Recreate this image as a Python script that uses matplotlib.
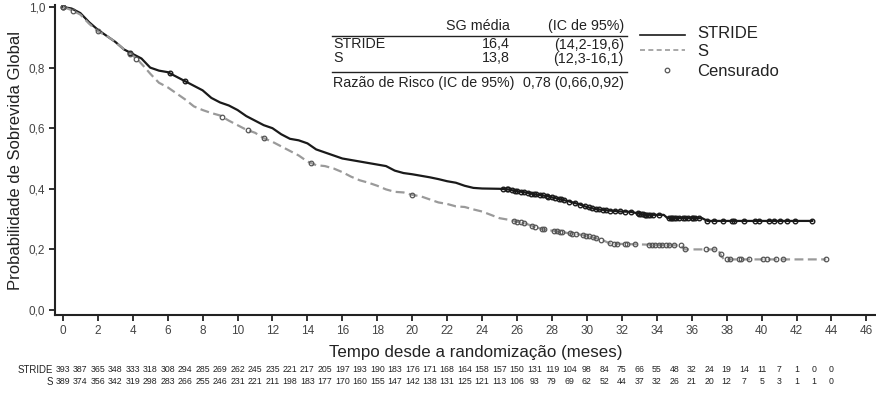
import numpy as np
import matplotlib
matplotlib.use("Agg")
import matplotlib.pyplot as plt
from matplotlib.lines import Line2D
from matplotlib.transforms import blended_transform_factory

plt.rcParams['font.family'] = ['Liberation Sans', 'DejaVu Sans']

# Curves (month, survival)
stride_t = [0, 0.5, 1.0, 1.5, 2.0, 2.5, 3.0, 3.5, 4.0, 4.5, 5.0, 5.5, 6.0, 6.5, 7.0, 7.5,
            8.0, 8.5, 9.0, 9.5, 10.0, 10.5, 11.0, 11.5, 12.0, 12.5, 13.0, 13.5, 14.0, 14.5,
            15.0, 15.5, 16.0, 16.5, 17.0, 17.5, 18.0, 18.5, 19.0, 19.5, 20.0, 20.5, 21.0,
            21.5, 22.0, 22.5, 23.0, 23.5, 24.0, 25.0, 25.5, 26.0, 26.5, 27.0, 27.5, 28.0,
            28.5, 29.0, 29.5, 30.0, 30.5, 31.0, 31.5, 32.0, 32.5, 33.0, 33.3, 34.4, 34.6,
            36.6, 36.9, 42.9]
stride_s = [1.0, 0.995, 0.98, 0.95, 0.925, 0.905, 0.885, 0.86, 0.845, 0.83, 0.80, 0.79, 0.785,
            0.77, 0.755, 0.74, 0.725, 0.70, 0.685, 0.675, 0.66, 0.64, 0.625, 0.61, 0.60, 0.58,
            0.565, 0.56, 0.55, 0.53, 0.52, 0.51, 0.50, 0.495, 0.49, 0.485, 0.48, 0.475, 0.46,
            0.452, 0.448, 0.443, 0.438, 0.432, 0.425, 0.42, 0.41, 0.403, 0.401, 0.40, 0.398,
            0.392, 0.388, 0.382, 0.378, 0.372, 0.365, 0.358, 0.35, 0.34, 0.333, 0.33, 0.327,
            0.325, 0.324, 0.318, 0.314, 0.314, 0.304, 0.303, 0.294, 0.294]

s_t = [0, 0.5, 1.0, 1.5, 2.0, 2.5, 3.0, 3.5, 4.0, 4.3, 4.7, 5.0, 5.5, 6.0, 6.5, 7.0, 7.5, 8.0,
       8.5, 9.0, 9.5, 10.0, 10.5, 11.0, 11.5, 12.0, 12.5, 13.0, 13.5, 14.0, 14.5, 15.0, 15.5,
       16.0, 16.5, 17.0, 17.5, 18.0, 18.5, 19.0, 19.5, 20.0, 20.5, 21.0, 21.5, 22.0, 22.5, 23.0,
       23.5, 24.0, 24.5, 25.0, 25.5, 26.0, 26.5, 27.0, 27.5, 28.0, 28.5, 29.0, 29.5, 30.0, 30.5,
       31.0, 31.3, 32.0, 34.0, 35.4, 35.6, 37.5, 37.7, 37.85, 43.7]
s_s = [1.0, 0.99, 0.975, 0.945, 0.92, 0.905, 0.885, 0.86, 0.84, 0.825, 0.80, 0.78, 0.75, 0.735,
       0.715, 0.695, 0.672, 0.66, 0.65, 0.642, 0.625, 0.61, 0.595, 0.585, 0.567, 0.555, 0.54,
       0.525, 0.51, 0.49, 0.478, 0.475, 0.467, 0.455, 0.44, 0.428, 0.42, 0.41, 0.398, 0.39,
       0.388, 0.38, 0.375, 0.365, 0.355, 0.35, 0.342, 0.34, 0.332, 0.325, 0.314, 0.303, 0.298,
       0.292, 0.285, 0.275, 0.266, 0.262, 0.258, 0.253, 0.25, 0.245, 0.237, 0.228, 0.22, 0.218,
       0.215, 0.213, 0.20, 0.20, 0.178, 0.167, 0.167]

# Censoring times (months)
stride_cens = [0, 3.84, 6.13, 6.99, 25.2, 25.4, 25.5, 25.7, 25.9, 26.0, 26.2, 26.4, 26.6, 26.8,
               27.0, 27.1, 27.3, 27.5, 27.7, 27.8, 28.0, 28.2, 28.4, 28.5, 28.7, 29.0, 29.3,
               29.6, 29.9, 30.1, 30.3, 30.5, 30.7, 30.9, 31.1, 31.3, 31.6, 31.9, 32.2, 32.5,
               32.9, 33.0, 33.1, 33.2, 33.3, 33.4, 33.5, 33.6, 33.8, 34.1, 34.7, 34.8, 34.9,
               35.0, 35.1, 35.3, 35.5, 35.6, 35.8, 36.0, 36.1, 36.2, 36.4, 36.9, 37.3, 37.8,
               38.3, 38.4, 38.98, 39.65, 39.85, 40.4, 40.7, 41.08, 41.47, 41.94, 42.9]
s_cens = [0, 0.6, 2.0, 3.84, 4.2, 9.1, 10.6, 11.5, 14.2, 20.0, 25.8, 26.0, 26.2, 26.4, 26.85,
          27.05, 27.43, 27.52, 28.1, 28.29, 28.48, 28.58, 29.05, 29.15, 29.37, 29.75, 29.94,
          30.13, 30.33, 30.52, 30.8, 31.35, 31.54, 31.72, 32.2, 32.3, 32.78, 33.55, 33.74,
          33.92, 34.1, 34.3, 34.5, 34.69, 34.97, 35.36, 35.6, 36.8, 37.3, 37.65, 38.0, 38.2,
          38.7, 38.8, 39.3, 40.1, 40.3, 40.8, 41.2, 43.7]

# Number at risk, every month 0..44
risk_months = list(range(45))
risk_stride = [393, 387, 365, 348, 333, 318, 308, 294, 285, 269, 262, 245, 235, 221, 217, 205,
               197, 193, 190, 183, 176, 171, 168, 164, 158, 157, 150, 131, 119, 104, 98, 84, 75,
               66, 55, 48, 32, 24, 19, 14, 11, 7, 1, 0, 0]
risk_s = [389, 374, 356, 342, 319, 298, 283, 266, 255, 246, 231, 221, 211, 198, 183, 177, 170,
          160, 155, 147, 142, 138, 131, 125, 121, 113, 106, 93, 79, 69, 62, 52, 44, 37, 32, 26,
          21, 20, 12, 7, 5, 3, 1, 1, 0]

W, H = 876, 395
fig = plt.figure(figsize=(W / 100, H / 100), dpi=100)
ax = fig.add_axes([55 / W, 1 - 315 / H, 1 - 55 / W, (315 - 5) / H])

black = '#1a1a1a'
grey = '#9a9a9a'

ax.plot(stride_t, stride_s, color=black, lw=1.6)
ax.plot(s_t, s_s, color=grey, lw=1.6, dashes=(4, 2))
ax.plot(stride_cens, np.interp(stride_cens, stride_t, stride_s), 'o', ms=3.3,
        mfc='none', mec=black, mew=1.0)
ax.plot(s_cens, np.interp(s_cens, s_t, s_s), 'o', ms=3.3, mfc='none', mec='#555555', mew=0.9)

ax.set_xlim(-0.45, 46.55)
ax.set_ylim(-0.0165, 1.0066)
ax.set_xticks(range(0, 47, 2))
ax.set_yticks([0, 0.2, 0.4, 0.6, 0.8, 1.0])
ax.set_yticklabels(['0,0', '0,2', '0,4', '0,6', '0,8', '1,0'])
for side in ['top', 'right']:
    ax.spines[side].set_visible(False)
for side in ['left', 'bottom']:
    ax.spines[side].set_linewidth(1.5)
    ax.spines[side].set_color('#222222')
ax.tick_params(direction='out', length=4, width=1.3, color='#222222', labelsize=8.5,
               labelcolor='#444444', pad=3)
ax.set_xlabel('Tempo desde a randomização (meses)', fontsize=12.2, color='#222222')
ax.xaxis.set_label_coords((476 - 55) / 821, -(353 - 315) / 310)
ax.xaxis.label.set_va('center')
ax.set_ylabel('Probabilidade de Sobrevida Global', fontsize=12, color='#222222', labelpad=4)


def fx(x):
    return x / W


def fy(y):
    return 1 - y / H


# Summary table
tc = '#222222'
fs = 10.3
fig.text(fx(510), fy(26), 'SG média', ha='right', va='center', fontsize=fs, color=tc)
fig.text(fx(624), fy(26), '(IC de 95%)', ha='right', va='center', fontsize=fs, color=tc)
fig.add_artist(Line2D([fx(332), fx(627)], [fy(36), fy(36)], color=tc, lw=1.0))
fig.text(fx(333), fy(44.5), 'STRIDE', ha='left', va='center', fontsize=fs, color=tc)
fig.text(fx(510), fy(44.5), '16,4', ha='right', va='center', fontsize=fs, color=tc)
fig.text(fx(624), fy(44.5), '(14,2-19,6)', ha='right', va='center', fontsize=fs, color=tc)
fig.text(fx(333), fy(58.5), 'S', ha='left', va='center', fontsize=fs, color=tc)
fig.text(fx(510), fy(58.5), '13,8', ha='right', va='center', fontsize=fs, color=tc)
fig.text(fx(624), fy(58.5), '(12,3-16,1)', ha='right', va='center', fontsize=fs, color=tc)
fig.add_artist(Line2D([fx(332), fx(627)], [fy(72), fy(72)], color=tc, lw=1.0))
fig.text(fx(333), fy(83.5), 'Razão de Risco (IC de 95%)', ha='left', va='center',
         fontsize=fs, color=tc)
fig.text(fx(624), fy(83.5), '0,78 (0,66,0,92)', ha='right', va='center', fontsize=fs, color=tc)

# Legend
fig.add_artist(Line2D([fx(640), fx(685)], [fy(35), fy(35)], color=black, lw=1.2))
fig.add_artist(Line2D([fx(640), fx(685)], [fy(50), fy(50)], color=grey, lw=1.2, dashes=(3, 2)))
fig.add_artist(Line2D([fx(667)], [fy(70)], marker='o', ms=3.3, mfc='none', mec='#555555',
                      mew=0.9))
fig.text(fx(697), fy(34), 'STRIDE', ha='left', va='center', fontsize=12, color=tc)
fig.text(fx(697), fy(51), 'S', ha='left', va='center', fontsize=12, color=tc)
fig.text(fx(697), fy(71), 'Censurado', ha='left', va='center', fontsize=12, color=tc)

# Number at risk
rfs = 6.3
fig.text(fx(53), fy(370), 'STRIDE', ha='right', va='center', fontsize=6.9, color=tc)
fig.text(fx(53), fy(382), 'S', ha='right', va='center', fontsize=6.9, color=tc)
row_tr = blended_transform_factory(ax.transData, fig.transFigure)
for m, a, b in zip(risk_months, risk_stride, risk_s):
    ax.text(m, fy(370), str(a), transform=row_tr, fontsize=rfs, color=tc, ha='center',
            va='center', clip_on=False)
    ax.text(m, fy(382), str(b), transform=row_tr, fontsize=rfs, color=tc, ha='center',
            va='center', clip_on=False)

fig.savefig('out.png', dpi=100)
